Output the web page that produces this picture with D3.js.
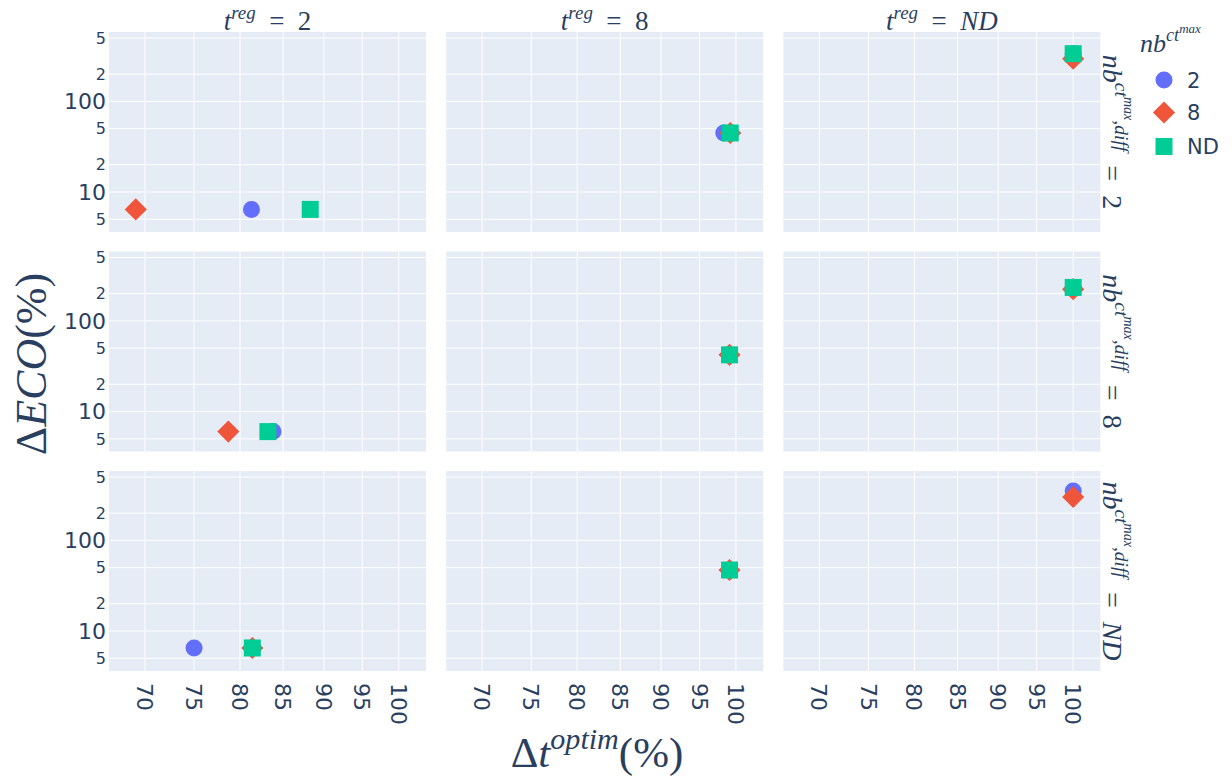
<!DOCTYPE html>
<html>
<head>
<meta charset="utf-8">
<script src="https://cdn.jsdelivr.net/npm/d3@7"></script>
<style>
  body { margin: 0; background: #fff; }
  svg { display: block; }
</style>
</head>
<body>
<div id="chart"></div>
<script>
// Facet values
const colVals = ["2", "8", "ND"];      // t^reg
const rowVals = ["2", "8", "ND"];      // nb^{ct^max,diff}
const seriesNames = ["2", "8", "ND"];  // nb^{ct^max}
const seriesColors = ["#636efa", "#EF553B", "#00cc96"];
const seriesSymbols = ["circle", "diamond", "square"];

// Points: [row, col, Δt_optim (%), ΔECO (%)]
const ptsNb2 = [
  ["2", "2", 81.3, 6.43], ["2", "8", 98.3, 44.8], ["2", "ND", 100, 336],
  ["8", "2", 83.8, 6.0],  ["8", "8", 99.1, 42.2], ["8", "ND", 100, 234],
  ["ND", "2", 75.0, 6.5], ["ND", "8", 99.1, 47.1], ["ND", "ND", 100, 351]
];
const ptsNb8 = [
  ["2", "2", 69.1, 6.43], ["2", "8", 99.2, 44.8], ["2", "ND", 100, 296],
  ["8", "2", 78.7, 6.0],  ["8", "8", 99.1, 42.2], ["8", "ND", 100, 224],
  ["ND", "2", 81.4, 6.5], ["ND", "8", 99.1, 47.1], ["ND", "ND", 100, 301]
];
const ptsNbND = [
  ["2", "2", 88.3, 6.43], ["2", "8", 99.2, 44.8], ["2", "ND", 100, 336],
  ["8", "2", 83.2, 6.0],  ["8", "8", 99.1, 42.2], ["8", "ND", 100, 234],
  ["ND", "2", 81.4, 6.5], ["ND", "8", 99.1, 47.1]
];
const seriesPts = [ptsNb2, ptsNb8, ptsNbND];

// Ticks
const xTicks = [70, 75, 80, 85, 90, 95, 100];
const yTicks = [5, 10, 20, 50, 100, 200, 500];
const yTickLabels = ["5", "10", "2", "5", "100", "2", "5"];

// Layout
const W = 1232, H = 776;
const left0 = 109, top0 = 32;
const pw = 317, ph = 200;
const gapX = 20.2, gapY = 19.5;
const textColor = "#2a3f5f";
const mathFont = "'Liberation Serif', 'DejaVu Serif', serif";
const tickFont = "'DejaVu Sans', Verdana, sans-serif";
const eq = "\u2002=\u2002";

const svg = d3.select("#chart").append("svg")
  .attr("width", W)
  .attr("height", H);

const x = d3.scaleLog().domain([66.55, 103.9]).range([0, pw]);
const y = d3.scaleLog().domain([3.62, 583]).range([ph, 0]);

// math-like text with super/superscripts
function mathText(sel, parts, size) {
  let cur = 0;
  parts.forEach(([t, lvl, it]) => {
    const fs = size * [1, 0.7, 0.5][lvl];
    const off = [0, -0.42, -0.72][lvl] * size;
    sel.append("tspan")
      .attr("dy", off - cur)
      .attr("font-size", fs)
      .attr("font-style", it ? "italic" : "normal")
      .text(t);
    cur = off;
  });
}

function shapePath(kind, size) {
  const r = size / 2;
  if (kind === "circle") {
    return `M${r},0A${r},${r} 0 1,1 0,-${r}A${r},${r} 0 0,1 ${r},0Z`;
  }
  if (kind === "diamond") {
    const d = r * 1.3;
    return `M${d},0L0,${d}L-${d},0L0,-${d}Z`;
  }
  return `M${r},${r}H-${r}V-${r}H${r}Z`;
}

const markerSize = 17;

rowVals.forEach((rv, ri) => {
  colVals.forEach((cv, ci) => {
    const px = left0 + ci * (pw + gapX);
    const py = top0 + ri * (ph + gapY);
    const g = svg.append("g").attr("transform", `translate(${px},${py})`);

    g.append("rect")
      .attr("width", pw).attr("height", ph)
      .attr("fill", "#E5ECF6");

    g.selectAll(".gx").data(xTicks).join("line")
      .attr("x1", d => x(d)).attr("x2", d => x(d))
      .attr("y1", 0).attr("y2", ph)
      .attr("stroke", "#fff").attr("stroke-width", 1);

    g.selectAll(".gy").data(yTicks).join("line")
      .attr("y1", d => y(d)).attr("y2", d => y(d))
      .attr("x1", 0).attr("x2", pw)
      .attr("stroke", "#fff").attr("stroke-width", 1);

    // y tick labels, first column only
    if (ci === 0) {
      g.selectAll(".yl").data(yTicks).join("text")
        .attr("x", -3)
        .attr("y", d => y(d))
        .attr("dy", "0.36em")
        .attr("text-anchor", "end")
        .attr("font-family", tickFont)
        .attr("font-size", d => (d === 10 || d === 100) ? 22 : 16)
        .attr("fill", textColor)
        .text((d, i) => yTickLabels[i]);
    }

    // x tick labels, bottom row only
    if (ri === rowVals.length - 1) {
      g.selectAll(".xl").data(xTicks).join("text")
        .attr("transform", d => `translate(${x(d)},${ph + 12}) rotate(90)`)
        .attr("dy", "0.36em")
        .attr("text-anchor", "start")
        .attr("font-family", tickFont)
        .attr("font-size", 22)
        .attr("fill", textColor)
        .text(d => d);
    }

    // markers
    seriesPts.forEach((pts, si) => {
      g.selectAll(null)
        .data(pts.filter(p => p[0] === rv && p[1] === cv))
        .join("path")
        .attr("transform", d => `translate(${x(d[2])},${y(d[3])})`)
        .attr("d", shapePath(seriesSymbols[si], markerSize))
        .attr("fill", seriesColors[si]);
    });

    // column titles
    if (ri === 0) {
      const t = svg.append("text")
        .attr("x", px + pw / 2)
        .attr("y", top0 - 2)
        .attr("text-anchor", "middle")
        .attr("font-family", mathFont)
        .attr("fill", textColor);
      mathText(t, [["t", 0, true], ["reg", 1, true], [eq, 0, false], [cv, 0, cv === "ND"]], 27);
    }

    // row titles
    if (ci === colVals.length - 1) {
      const t = svg.append("text")
        .attr("transform", `translate(${px + pw + 3},${py + ph / 2}) rotate(90)`)
        .attr("text-anchor", "middle")
        .attr("font-family", mathFont)
        .attr("fill", textColor);
      mathText(t, [["nb", 0, true], ["ct", 1, true], ["max", 2, true], [",diff", 1, true], [eq, 0, false], [rv, 0, rv === "ND"]], 28);
    }
  });
});

// axis titles
const xt = svg.append("text")
  .attr("x", 597)
  .attr("y", 767)
  .attr("text-anchor", "middle")
  .attr("font-family", mathFont)
  .attr("fill", textColor);
mathText(xt, [["Δ", 0, false], ["t", 0, true], ["optim", 1, true], ["(%)", 0, false]], 43);

const yt = svg.append("text")
  .attr("transform", "translate(46,364) rotate(-90)")
  .attr("text-anchor", "middle")
  .attr("font-family", mathFont)
  .attr("fill", textColor);
mathText(yt, [["Δ", 0, false], ["ECO", 0, true], ["(%)", 0, false]], 44);

// legend
const lt = svg.append("text")
  .attr("x", 1140)
  .attr("y", 52)
  .attr("font-family", mathFont)
  .attr("fill", textColor);
mathText(lt, [["nb", 0, true], ["ct", 1, true], ["max", 2, true]], 26);

const legendY = [80, 112.5, 146.5];
seriesNames.forEach((name, i) => {
  svg.append("path")
    .attr("transform", `translate(1164,${legendY[i]})`)
    .attr("d", shapePath(seriesSymbols[i], markerSize))
    .attr("fill", seriesColors[i]);
  svg.append("text")
    .attr("x", 1187)
    .attr("y", legendY[i])
    .attr("dy", "0.36em")
    .attr("font-family", tickFont)
    .attr("font-size", 21)
    .attr("fill", textColor)
    .text(name);
});
</script>
</body>
</html>
